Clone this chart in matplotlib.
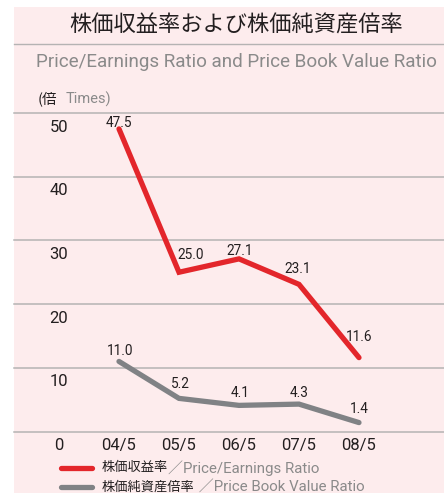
import matplotlib
matplotlib.use('Agg')
import matplotlib.pyplot as plt
from matplotlib.patches import Rectangle
from matplotlib.lines import Line2D

# data
years = ['04/5', '05/5', '06/5', '07/5', '08/5']
per = [47.5, 25.0, 27.1, 23.1, 11.6]
pbr = [11.0, 5.2, 4.1, 4.3, 1.4]
yticks = [0, 10, 20, 30, 40, 50]

# label offsets in pixels (dx, dy) from point
per_off = [(0, 6), (12, 17), (1, 8), (-1, 15), (0, 21)]
pbr_off = [(1, 10), (1, 14), (1, 12), (0, 11), (0, 14)]

red = '#e3262b'
grey = '#808285'
pink = '#fdeced'
gridc = '#b5b3b3'
txt = '#231f20'
subc = '#8a8a8a'

plt.rcParams['font.family'] = ['Roboto', 'Noto Sans CJK JP', 'DejaVu Sans']
jpfam = ['Noto Sans CJK JP', 'DejaVu Sans']

W, H = 444, 493
fig = plt.figure(figsize=(W/100, H/100), dpi=100)
fig.patch.set_facecolor('white')
fig.patches.append(Rectangle((14/W, 0), 1 - 14/W, 1 - 7/H, transform=fig.transFigure,
                             facecolor=pink, edgecolor='none', zorder=-5))

# title
fig.text(236/W, 1 - 25/H, '株価収益率および株価純資産倍率', ha='center', va='center',
         fontsize=16, color=txt, family=jpfam)
fig.add_artist(Line2D([14/W, 1], [1 - 44/H, 1 - 44/H], transform=fig.transFigure,
                      color=gridc, lw=1))
fig.text(236/W, 1 - 62/H, 'Price/Earnings Ratio and Price Book Value Ratio',
         ha='center', va='center', fontsize=13.6, color=subc)
fig.text(38/W, 1 - 99/H, '(倍', ha='left', va='center', fontsize=10.5, color=txt,
         family=jpfam)
fig.text(66/W, 1 - 99/H, 'Times)', ha='left', va='center', fontsize=10.5, color=subc)

bottom = 1 - 431.5/H
top = 1 - 113/H
ax = fig.add_axes([14/W, bottom, 1 - 14/W, top - bottom])
ax.set_zorder(2)
ax.set_facecolor('none')
ax.set_xlim(-1.75, 5.417)
ax.set_ylim(0, 50)
for s in ax.spines.values():
    s.set_visible(False)
ax.set_xticks([])
ax.set_yticks([])

for v in yticks:
    ax.axhline(v, color=gridc, lw=1.1, zorder=1, clip_on=False)
    ax.annotate(str(v), (-1, v), xytext=(0, -14), textcoords='offset pixels',
                ha='center', va='center', fontsize=12, color=txt, annotation_clip=False)

x = list(range(len(years)))
for i, lab in enumerate(years):
    ax.annotate(lab, (i, 0), xytext=(0, -14), textcoords='offset pixels',
                ha='center', va='center', fontsize=12, color=txt, annotation_clip=False)

ax.plot(x, per, color=red, lw=3.8, solid_capstyle='round', solid_joinstyle='miter',
        zorder=3, clip_on=False)
ax.plot(x, pbr, color=grey, lw=3.8, solid_capstyle='round', solid_joinstyle='miter',
        zorder=3, clip_on=False)

for i, v in enumerate(per):
    ax.annotate('%.1f' % v, (i, v), xytext=per_off[i], textcoords='offset pixels',
                ha='center', va='center', fontsize=9.8, color=txt, annotation_clip=False)
for i, v in enumerate(pbr):
    ax.annotate('%.1f' % v, (i, v), xytext=pbr_off[i], textcoords='offset pixels',
                ha='center', va='center', fontsize=9.8, color=txt, annotation_clip=False)

# legend
for yy, col, jp, en in [(468, red, '株価収益率', '／Price/Earnings Ratio'),
                        (487, grey, '株価純資産倍率', ' ／Price Book Value Ratio')]:
    fig.add_artist(Line2D([61/W, 92/W], [1 - yy/H, 1 - yy/H], transform=fig.transFigure,
                          color=col, lw=3.8, solid_capstyle='round'))
    t = fig.text(102/W, 1 - yy/H, jp, ha='left', va='center', fontsize=9.5, color=txt,
                 family=jpfam)
    fig.canvas.draw()
    bb = t.get_window_extent()
    fig.text(bb.x1/W, 1 - yy/H, en, ha='left', va='center', fontsize=10.8, color=subc,
             family=['Roboto', 'Noto Sans CJK JP', 'DejaVu Sans'])

fig.savefig('out.png', dpi=100)
